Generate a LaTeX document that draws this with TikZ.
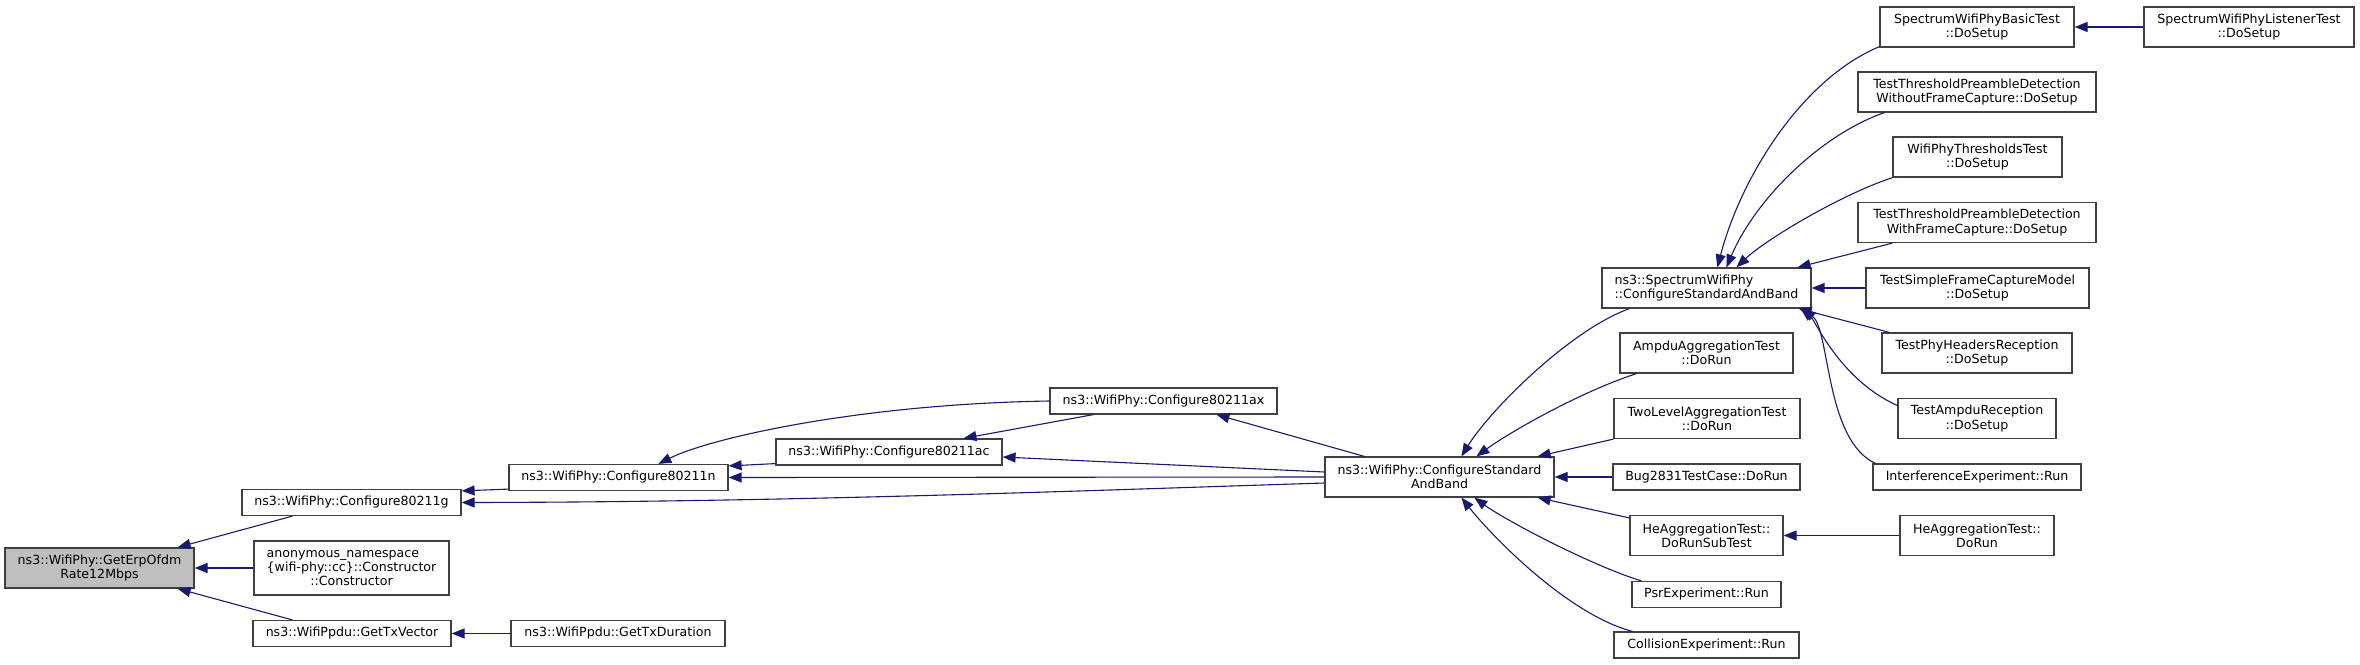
\documentclass[tikz,border=0pt]{standalone}
\usepackage{fontspec}
\setmainfont{DejaVu Sans}
\usepackage{calc}
\usetikzlibrary{arrows.meta,calc}
\definecolor{edgeblue}{HTML}{191970}
\definecolor{mainfill}{HTML}{BFBFBF}
\definecolor{boxline}{HTML}{404040}
\begin{document}
\begin{tikzpicture}[x=1pt,y=-1pt,
  box/.style={draw=boxline, line width=1.2pt, fill=white, inner sep=0pt, align=center, font=\fontsize{12.6}{14.3}\selectfont},
  callarrow/.style={draw=edgeblue, line width=1.1pt, {Triangle[length=13pt,width=10pt]}-}]
\useasboundingbox (0,0) rectangle (2360,664);
\fill[white] (0,0) rectangle (2360,664);
% column 1
\node[box, fill=mainfill, minimum width=189, minimum height=40] (erp) at (99.5,568) {ns3::WifiPhy::GetErpOfdm\\Rate12Mbps};
% column 2
\node[box, minimum width=219, minimum height=26] (g) at (351.5,502.5) {ns3::WifiPhy::Configure80211g};
\node[box, minimum width=195, minimum height=54] (anon) at (351.5,568) {\makebox[\widthof{\{wifi-phy::cc\}::Constructor}][l]{anonymous\_namespace}\\\{wifi-phy::cc\}::Constructor\\::Constructor};
\node[box, minimum width=198, minimum height=26] (txv) at (352,633.5) {ns3::WifiPpdu::GetTxVector};
% column 3
\node[box, minimum width=219, minimum height=26] (n) at (618.5,477.5) {ns3::WifiPhy::Configure80211n};
\node[box, minimum width=214, minimum height=26] (txd) at (618,633.5) {ns3::WifiPpdu::GetTxDuration};
% column 4, 5
\node[box, minimum width=226, minimum height=26] (ac) at (889,452) {ns3::WifiPhy::Configure80211ac};
\node[box, minimum width=227, minimum height=26] (ax) at (1163.5,401) {ns3::WifiPhy::Configure80211ax};
% column 6
\node[box, minimum width=229, minimum height=40] (csab) at (1439.5,477) {ns3::WifiPhy::ConfigureStandard\\AndBand};
% column 7
\node[box, align=left, minimum width=209, minimum height=40] (scsab) at (1706.5,288) {ns3::SpectrumWifiPhy\\::ConfigureStandardAndBand};
\node[box, minimum width=173, minimum height=40] (ampduagg) at (1706.5,353) {AmpduAggregationTest\\::DoRun};
\node[box, minimum width=186, minimum height=40] (twolevel) at (1707,418.5) {TwoLevelAggregationTest\\::DoRun};
\node[box, minimum width=187, minimum height=26] (bug) at (1706.5,477) {Bug2831TestCase::DoRun};
\node[box, minimum width=153, minimum height=40] (subtest) at (1706.5,535.5) {HeAggregationTest::\\DoRunSubTest};
\node[box, minimum width=149, minimum height=26] (psr) at (1706.5,594.5) {PsrExperiment::Run};
\node[box, minimum width=185, minimum height=26] (collision) at (1706.5,645) {CollisionExperiment::Run};
% column 8
\node[box, minimum width=194, minimum height=40] (basic) at (1977,27) {SpectrumWifiPhyBasicTest\\::DoSetup};
\node[box, minimum width=238, minimum height=40] (without) at (1977,92) {TestThresholdPreambleDetection\\WithoutFrameCapture::DoSetup};
\node[box, minimum width=169, minimum height=40] (thresholds) at (1977.5,157) {WifiPhyThresholdsTest\\::DoSetup};
\node[box, minimum width=238, minimum height=40] (with) at (1977,222.5) {TestThresholdPreambleDetection\\WithFrameCapture::DoSetup};
\node[box, minimum width=223, minimum height=40] (simple) at (1977.5,288) {TestSimpleFrameCaptureModel\\::DoSetup};
\node[box, minimum width=190, minimum height=40] (phyhdr) at (1977,353) {TestPhyHeadersReception\\::DoSetup};
\node[box, minimum width=158, minimum height=40] (ampdurx) at (1977,418.5) {TestAmpduReception\\::DoSetup};
\node[box, minimum width=208, minimum height=26] (interf) at (1977,477) {InterferenceExperiment::Run};
\node[box, minimum width=154, minimum height=40] (hedorun) at (1977,535.5) {HeAggregationTest::\\DoRun};
% column 9
\node[box, minimum width=210, minimum height=40] (listener) at (2249,27) {SpectrumWifiPhyListenerTest\\::DoSetup};
% edges
\draw[callarrow] ($(erp.north east)+(-17,0)$) -- ($(g.south west)+(51,0)$);
\draw[callarrow] (erp.east) -- (anon.west);
\draw[callarrow] ($(erp.south east)+(-17,0)$) -- ($(txv.north west)+(40,0)$);
\draw[callarrow] (txv.east) -- (txd.west);
\draw[callarrow] ($(g.north east)+(0,2)$) -- ($(n.south west)+(0,-2)$);
\draw[callarrow] (g.east) .. controls (800,502) and (1100,490) .. ($(csab.west)+(0,6)$);
\draw[callarrow] ($(n.north east)+(0,2)$) -- ($(ac.south west)+(0,-2)$);
\draw[callarrow] (n.east) -- (csab.west);
\draw[callarrow] ($(n.north west)+(150,0)$) .. controls (710,438) and (860,404) .. (ax.west);
\draw[callarrow] ($(ac.north west)+(188,0)$) -- ($(ax.south west)+(44,0)$);
\draw[callarrow] ($(ac.east)+(0,5)$) -- ($(csab.west)+(0,-5)$);
\draw[callarrow] ($(ax.south west)+(167,0)$) -- ($(csab.north west)+(40,0)$);
\draw[callarrow] ($(csab.north west)+(137,0)$) .. controls (1490,410) and (1570,330) .. ($(scsab.south west)+(28,0)$);
\draw[callarrow] ($(csab.north west)+(152,0)$) .. controls (1510,432) and (1580,392) .. ($(ampduagg.south west)+(17,0)$);
\draw[callarrow] ($(csab.north east)+(-17,0)$) -- (twolevel.south west);
\draw[callarrow] (csab.east) -- (bug.west);
\draw[callarrow] ($(csab.south east)+(-17,0)$) -- ($(subtest.north west)+(0,3)$);
\draw[callarrow] ($(csab.south west)+(150,0)$) .. controls (1505,520) and (1590,565) .. ($(psr.north west)+(10,0)$);
\draw[callarrow] ($(csab.south west)+(137,0)$) .. controls (1495,540) and (1570,615) .. ($(collision.north west)+(19,0)$);
\draw[callarrow] ($(scsab.north west)+(116,0)$) .. controls (1740,180) and (1800,80) .. ($(basic.south west)+(0,-1)$);
\draw[callarrow] ($(scsab.north west)+(125,0)$) .. controls (1755,200) and (1820,135) .. ($(without.south west)+(27,0)$);
\draw[callarrow] ($(scsab.north west)+(135,0)$) .. controls (1765,240) and (1840,195) .. (thresholds.south west);
\draw[callarrow] ($(scsab.north east)+(-14,0)$) -- ($(with.south west)+(35,0)$);
\draw[callarrow] (scsab.east) -- (simple.west);
\draw[callarrow] ($(scsab.south east)+(-13,0)$) -- ($(phyhdr.north west)+(8,0)$);
\draw[callarrow] ($(scsab.south east)+(-11,0)$) .. controls (1815,320) and (1840,380) .. ($(ampdurx.west)+(0,-13)$);
\draw[callarrow] ($(scsab.south east)+(-9,0)$) .. controls (1830,330) and (1825,440) .. ($(interf.north west)+(3,0)$);
\draw[callarrow] (basic.east) -- (listener.west);
\draw[callarrow] (subtest.east) -- (hedorun.west);
\end{tikzpicture}
\end{document}
